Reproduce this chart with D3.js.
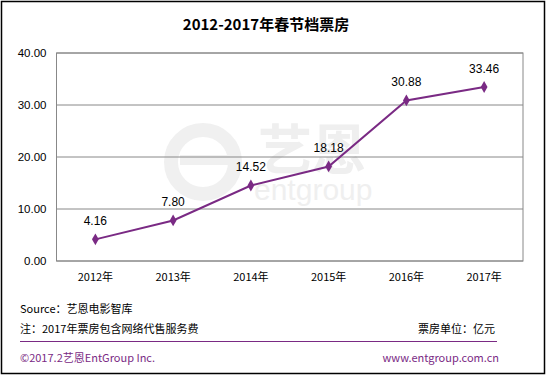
<!DOCTYPE html>
<html><head><meta charset="utf-8">
<script src="https://cdn.jsdelivr.net/npm/d3@7"></script>
<style>body{margin:0;background:#fff}svg{display:block}</style>
</head><body>
<script>
const categories = ["2012年","2013年","2014年","2015年","2016年","2017年"];
const values = [4.16, 7.80, 14.52, 18.18, 30.88, 33.46];
const yTicks = [0, 10, 20, 30, 40];
const title = "2012-2017年春节档票房";

const W = 547, H = 376;
const svg = d3.select("body").append("svg").attr("width", W).attr("height", H);
const cjk = "'Noto Sans CJK SC', 'Liberation Sans', sans-serif";
const num = "'Liberation Sans', Arial, sans-serif";
const purple = "#7a2a84";

svg.append("rect").attr("x",1.5).attr("y",1.5).attr("width",W-4).attr("height",H-4)
  .attr("fill","#fff").attr("stroke","#000").attr("stroke-width",1.5);

svg.append("text").attr("x",266).attr("y",30).attr("text-anchor","middle")
  .attr("font-family",cjk).attr("font-weight","bold").attr("font-size",15).attr("fill","#000").text(title);

const m = {l:56.5, r:523, t:53, b:261};
const x = d3.scaleBand().domain(categories).range([m.l, m.r]);
const y = d3.scaleLinear().domain([0,40]).range([m.b, m.t]);

// watermark (faint logo)
const wm = svg.append("g").attr("fill","#efefef");
wm.append("circle").attr("cx",203).attr("cy",162).attr("r",32).attr("fill","none").attr("stroke","#f0f0f0").attr("stroke-width",14);
wm.append("rect").attr("x",180).attr("y",155).attr("width",48).attr("height",10).attr("fill","#f0f0f0");
wm.append("text").attr("x",258).attr("y",170).attr("font-family",cjk).attr("font-weight","bold").attr("font-size",54).text("艺恩");
wm.append("text").attr("x",254).attr("y",200).attr("font-family",num).attr("font-size",30).text("entgroup");

// grid
svg.append("g").selectAll("line").data(yTicks).join("line")
  .attr("x1",m.l).attr("x2",m.r).attr("y1",d=>y(d)).attr("y2",d=>y(d))
  .attr("stroke","#888").attr("stroke-width",1);
svg.append("rect").attr("x",m.l).attr("y",m.t).attr("width",m.r-m.l).attr("height",m.b-m.t)
  .attr("fill","none").attr("stroke","#888").attr("stroke-width",1);

// y axis labels
const yAxis = d3.axisLeft(y).tickValues(yTicks).tickFormat(d3.format(".2f")).tickSize(0).tickPadding(10);
const ya = svg.append("g").attr("transform",`translate(${m.l},0)`).call(yAxis);
ya.select(".domain").remove();
ya.selectAll("text").attr("font-family",num).attr("font-size",11.5).attr("fill","#000");

// x axis labels
const xAxis = d3.axisBottom(x).tickSize(0).tickPadding(12);
const xa = svg.append("g").attr("transform",`translate(0,${m.b})`).call(xAxis);
xa.select(".domain").remove();
xa.selectAll("text").attr("font-family",cjk).attr("font-size",11).attr("fill","#000");

const cx = d => x(d) + x.bandwidth()/2;
const pts = categories.map((c,i)=>[cx(c), y(values[i])]);
svg.append("path").attr("d", d3.line()(pts)).attr("fill","none").attr("stroke",purple).attr("stroke-width",2);
svg.append("g").selectAll("path").data(pts).join("path")
  .attr("d", d3.symbol(d3.symbolDiamond, 40)).attr("transform",d=>`translate(${d[0]},${d[1]})`).attr("fill",purple);
svg.append("g").selectAll("text").data(values).join("text")
  .attr("x",(d,i)=>pts[i][0]).attr("y",(d,i)=>pts[i][1]-14).attr("text-anchor","middle")
  .attr("font-family",num).attr("font-size",12).attr("fill","#000").text(d=>d.toFixed(2));

// notes
svg.append("text").attr("x",20).attr("y",313).attr("font-family",cjk).attr("font-size",11).attr("fill","#000").text("Source：艺恩电影智库");
svg.append("text").attr("x",20).attr("y",333).attr("font-family",cjk).attr("font-size",11).attr("fill","#000").text("注：2017年票房包含网络代售服务费");
svg.append("text").attr("x",495).attr("y",333).attr("text-anchor","end").attr("font-family",cjk).attr("font-size",11).attr("fill","#000").text("票房单位：亿元");
svg.append("line").attr("x1",20).attr("x2",497).attr("y1",341.5).attr("y2",341.5).attr("stroke",purple).attr("stroke-width",1);
svg.append("text").attr("x",20).attr("y",362).attr("font-family",cjk).attr("font-size",11).attr("fill",purple).text("©2017.2艺恩EntGroup Inc.");
svg.append("text").attr("x",499).attr("y",362).attr("text-anchor","end").attr("font-family",cjk).attr("font-size",11).attr("fill",purple).text("www.entgroup.com.cn");
</script>
</body></html>
